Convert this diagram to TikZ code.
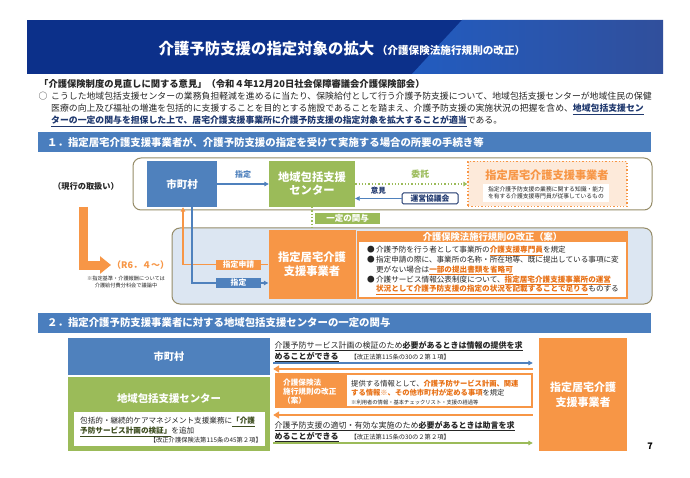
\documentclass[tikz,border=0pt]{standalone}
\usepackage{fontspec}
\setmainfont{Noto Sans CJK JP}
\usepackage{tikz}
\usetikzlibrary{arrows.meta,positioning,calc}

\definecolor{HeadNavy}{RGB}{12,48,138}
\definecolor{HeadLight}{RGB}{34,92,192}
\definecolor{BandBlue}{RGB}{74,126,190}
\definecolor{CityBlue}{RGB}{79,129,189}
\definecolor{CtrGreen}{RGB}{155,187,89}
\definecolor{BizOrange}{RGB}{247,150,70}
\definecolor{PaleOrange}{RGB}{253,234,218}
\definecolor{PaleBlue}{RGB}{220,230,242}
\definecolor{FrameOlive}{RGB}{150,140,104}
\definecolor{InkNavy}{RGB}{31,56,110}
\definecolor{TextOrange}{RGB}{232,112,20}
\definecolor{InkDark}{RGB}{38,38,38}
\definecolor{DeepGreen}{RGB}{60,76,30}

\newcommand\fsz[2]{\fontsize{#1pt}{#2pt}\selectfont}
\newcommand\hlo[1]{\textcolor{TextOrange}{\bfseries\underline{#1}}}
\newcommand\hlb[1]{\textbf{\underline{#1}}}
\newcommand\hln[1]{\textcolor{InkNavy}{\bfseries\underline{#1}}}

\begin{document}
\begin{tikzpicture}[x=1pt, y=-1pt,
  blockbox/.style={inner sep=0pt, align=center, text=white, font=\bfseries\fsz{11}{14}},
  tagbox/.style={inner sep=0pt, minimum width=45pt, minimum height=10pt, text=white, font=\bfseries\fsz{7.8}{9}},
  framebox/.style={draw=FrameOlive, line width=1pt, rounded corners=8pt},
  bandbox/.style={fill=BandBlue, minimum width=613pt, minimum height=20pt, anchor=west, inner sep=0pt},
  bandtext/.style={anchor=west, text=white, font=\bfseries\fsz{10.4}{12}, inner sep=0pt},
  flow/.style={line width=1.2pt, -{Triangle[length=4.5pt,width=4.5pt]}},
  fatflow/.style={line width=2.6pt, -{Triangle[length=6pt,width=7pt]}},
  bodytext/.style={anchor=west, inner sep=0pt, align=left, text=InkDark},
]
\useasboundingbox (0,0) rectangle (690,478);
\fill[white] (0,0) rectangle (690,478);

% 見出し
\fill[HeadNavy] (27,20) rectangle (663,74);
\shade[left color=HeadLight, right color=HeadNavy!85!white] (462,20) -- (663,20) -- (663,74) -- (412,74) -- cycle;
\node[text=white, font=\bfseries\fsz{15.4}{18}, inner sep=0pt] (title) at (342,49)
  {介護予防支援の指定対象の拡大\,{\fsz{10.6}{12}（介護保険法施行規則の改正）}};

% 部会意見
\node[bodytext, font=\bfseries\fsz{9.3}{11}] (quote) at (39,84)
  {「介護保険制度の見直しに関する意見」（令和４年12月20日社会保障審議会介護保険部会）};
\node[inner sep=0pt, font=\fsz{8.85}{11}, text=InkDark] (circ) at (43,96) {○};
\node[bodytext, anchor=north west, font=\fsz{8.85}{12.3}] (para) at (51,91.6)
  {こうした地域包括支援センターの業務負担軽減を進めるに当たり、保険給付として行う介護予防支援について、地域包括支援センターが地域住民の保健\\
   医療の向上及び福祉の増進を包括的に支援することを目的とする施設であることを踏まえ、介護予防支援の実施状況の把握を含め、\hln{地域包括支援セン}\\
   \hln{ターの一定の関与を担保した上で、居宅介護支援事業所に介護予防支援の指定対象を拡大することが適当}である。};

% 1．帯
\node[bandbox] (band1) at (38,142.5) {};
\node[bandtext, right=9pt of band1.west] (band1t)
  {１．指定居宅介護支援事業者が、介護予防支援の指定を受けて実施する場合の所要の手続き等};

% 現行の取扱い
\draw[framebox, fill=white] (133,158) rectangle (652,210);
\node[font=\bfseries\fsz{8.2}{10}, text=InkDark, inner sep=0pt] (curr) at (86,186) {（現行の取扱い）};
\node[blockbox, fill=CityBlue, minimum width=70pt, minimum height=46pt, font=\bfseries\fsz{10.5}{13}] (city1) at (182,184) {市町村};
\node[blockbox, fill=CtrGreen, minimum width=86pt, minimum height=46pt, font=\bfseries\fsz{11.3}{13}] (ctr1) at (312,184) {地域包括支援\\センター};
\draw[flow, CityBlue] (city1) -- (ctr1) node[midway, above=1.5pt, font=\bfseries\fsz{8}{9}] {指定};

\node[draw=BizOrange, dotted, line width=1.3pt, fill=PaleOrange, minimum width=159pt, minimum height=45pt, inner sep=0pt] (biz1) at (547.5,184) {};
\node[font=\bfseries\fsz{11.2}{13}, text=BizOrange, inner sep=0pt] (biz1t) at (547,175.5) {指定居宅介護支援事業者};
\node[fill=white, minimum width=126pt, minimum height=18pt, inner sep=0pt, align=left, font=\fsz{5.8}{7}, text=InkDark] (biz1n) at (546,193)
  {指定介護予防支援の業務に関する知識・能力\\を有する介護支援専門員が従事しているもの};
\draw[CtrGreen, line width=1.3pt, dotted, -{Triangle[length=4pt,width=4.5pt]}] (ctr1) -- (biz1)
  node[pos=0.58, above=2pt, font=\bfseries\fsz{8.8}{10}] {委託};

\node[draw=InkNavy, line width=1pt, rounded corners=1.5pt, fill=white, minimum width=56pt, minimum height=11pt, inner sep=0pt, font=\bfseries\fsz{7.8}{9}, text=InkNavy] (unei) at (430,198.5) {運営協議会};
\draw[flow, line width=0.8pt, CityBlue] (unei.west) -- (unei.west -| ctr1.east)
  node[midway, above=0.5pt, font=\bfseries\fsz{7.5}{9}, text=InkNavy] {意見};

% R6.4～
\draw[framebox, fill=PaleBlue] (172,228) rectangle (652,304);
\node[blockbox, fill=BizOrange, minimum width=87pt, minimum height=69pt, font=\bfseries\fsz{11.3}{14}] (biz2) at (312,264.5) {指定居宅介護\\支援事業者};
\draw[CtrGreen, line width=1.3pt, dotted] (ctr1) -- (biz2);
\node[fill=CtrGreen, minimum width=65pt, minimum height=11pt, inner sep=0pt, text=white, font=\bfseries\fsz{8.5}{9}] (kanyo) at (347.5,218.5) {一定の関与};

\draw[flow, BizOrange] (biz2.west) -| ([xshift=1pt]city1.south);
\draw[flow, CityBlue] ([xshift=10pt]city1.south) |- ([yshift=-18.5pt]biz2.west);
\node[tagbox, fill=BizOrange] (aplt) at (238.5,264.5) {指定申請};
\node[tagbox, fill=CityBlue] (dest) at (238.5,283) {指定};

\coordinate (oldtop) at (83,207);
\node[font=\bfseries\fsz{9}{11}, text=BizOrange, anchor=west, inner sep=1pt] (r6) at (111,265) {（R6．４～）};
\draw[BizOrange, line width=9pt, -{Triangle[length=11pt,width=17pt]}] (oldtop) |- (r6.west);
\node[font=\fsz{5.2}{7}, text=InkDark, align=center, inner sep=0pt] (memo) at (126,282.5)
  {※指定基準・介護報酬については\\介護給付費分科会で議論中};

\node[draw=BizOrange, line width=2.6pt, fill=white, minimum width=269pt, minimum height=66pt, inner sep=0pt] (rule) at (492.5,265) {};
\node[fill=BizOrange, minimum width=269pt, minimum height=11.5pt, inner sep=0pt, anchor=north, text=white, font=\bfseries\fsz{9.3}{11}] (rulet) at (rule.north) {介護保険法施行規則の改正（案）};
\node[bodytext, anchor=north west, font=\fsz{7.6}{9.75}] (rulel) at (367,246.2)
  {●\,介護予防を行う者として事業所の\hlo{介護支援専門員}を規定\\
   ●\,指定申請の際に、事業所の名称・所在地等、既に提出している事項に変\\
   \phantom{●\,}更がない場合は\hlo{一部の提出書類を省略可}\\
   ●\,介護サービス情報公表制度について、\hlo{指定居宅介護支援事業所の運営}\\
   \phantom{●\,}\hlo{状況として介護予防支援の指定の状況を記載することで足りる}ものする};

% 2．帯
\node[bandbox] (band2) at (38,323) {};
\node[bandtext, right=9pt of band2.west] (band2t)
  {２．指定介護予防支援事業者に対する地域包括支援センターの一定の関与};

\node[blockbox, fill=CityBlue, minimum width=202pt, minimum height=37pt, font=\bfseries\fsz{10.2}{12}] (city2) at (169,356.5) {市町村};
\node[fill=CtrGreen, minimum width=202pt, minimum height=74pt, inner sep=0pt] (ctr2) at (169,414) {};
\node[blockbox, font=\bfseries\fsz{10.4}{12}] (ctr2t) at (169,399) {地域包括支援センター};
\node[fill=white, minimum width=191pt, minimum height=34pt, inner sep=0pt] (ctr2w) at (169.5,429) {};
\node[bodytext, anchor=north west, font=\fsz{7.6}{10}] (ctr2l) at (80,417.2)
  {包括的・継続的ケアマネジメント支援業務に\textcolor{DeepGreen}{\bfseries\underline{「介護}}\\
   \textcolor{DeepGreen}{\bfseries\underline{予防サービス計画の検証」}}を追加};
\node[font=\fsz{6.3}{7}, anchor=east, inner sep=0pt, text=InkDark] (ctr2r) at (262,440.5) {【改正介護保険法第115条の45第２項】};

\node[blockbox, fill=BizOrange, minimum width=88pt, minimum height=113pt, font=\bfseries\fsz{11}{15}] (biz3) at (583,394.5) {指定居宅介護\\支援事業者};

\coordinate (lvA) at (0,363);
\coordinate (lvB) at (0,369);
\coordinate (lvC) at (0,415);
\coordinate (lvD) at (0,443);

\node[bodytext, anchor=north west, font=\fsz{8}{11}] (askinfo) at (274.5,341)
  {\underline{介護予防サービス計画の検証のため\textbf{必要があるときは情報の提供を求}}\\
   \hlb{めることができる}\hspace{12pt}{\fsz{6.3}{7}【改正法第115条の30の２第１項】}};
\draw[flow, CityBlue, shorten <=3pt, shorten >=6pt] (city2.east |- lvA) -- (biz3.west |- lvA);
\draw[fatflow, BizOrange, shorten <=6pt, shorten >=3pt] (biz3.west |- lvB) -- (city2.east |- lvB);

\node[fill=BizOrange, minimum width=258pt, minimum height=35pt, inner sep=0pt] (rule2) at (404,390.5) {};
\node[font=\bfseries\fsz{7.6}{9}, text=white, align=left, anchor=north west, inner sep=0pt] (rule2t) at (283,379) {介護保険法\\施行規則の改正\\（案）};
\node[fill=white, minimum width=184pt, minimum height=31pt, inner sep=0pt] (info) at (439,390.5) {};
\node[bodytext, anchor=north west, font=\fsz{7.3}{9}] (infol) at (351,379.5)
  {提供する情報として、\textcolor{TextOrange}{\bfseries 介護予防サービス計画、関連}\\
   \textcolor{TextOrange}{\bfseries する情報※、その他市町村が定める事項}を規定\\
   {\fsz{5.3}{7}※利用者の情報・基本チェックリスト・支援の経過等}};

\draw[fatflow, BizOrange, shorten <=6pt, shorten >=3pt] (biz3.west |- lvC) -- (ctr2.east |- lvC);
\node[bodytext, anchor=north west, font=\fsz{8}{11}] (advice) at (274.5,421)
  {\underline{介護予防支援の適切・有効な実施のため\textbf{必要があるときは助言を求}}\\
   \hlb{めることができる}\hspace{12pt}{\fsz{6.3}{7}【改正法第115条の30の２第２項】}};
\draw[flow, CtrGreen, shorten <=3pt, shorten >=6pt] (ctr2.east |- lvD) -- (biz3.west |- lvD);

\node[font=\bfseries\fsz{9}{11}, inner sep=0pt] (pageno) at (650,446) {7};
\end{tikzpicture}
\end{document}
